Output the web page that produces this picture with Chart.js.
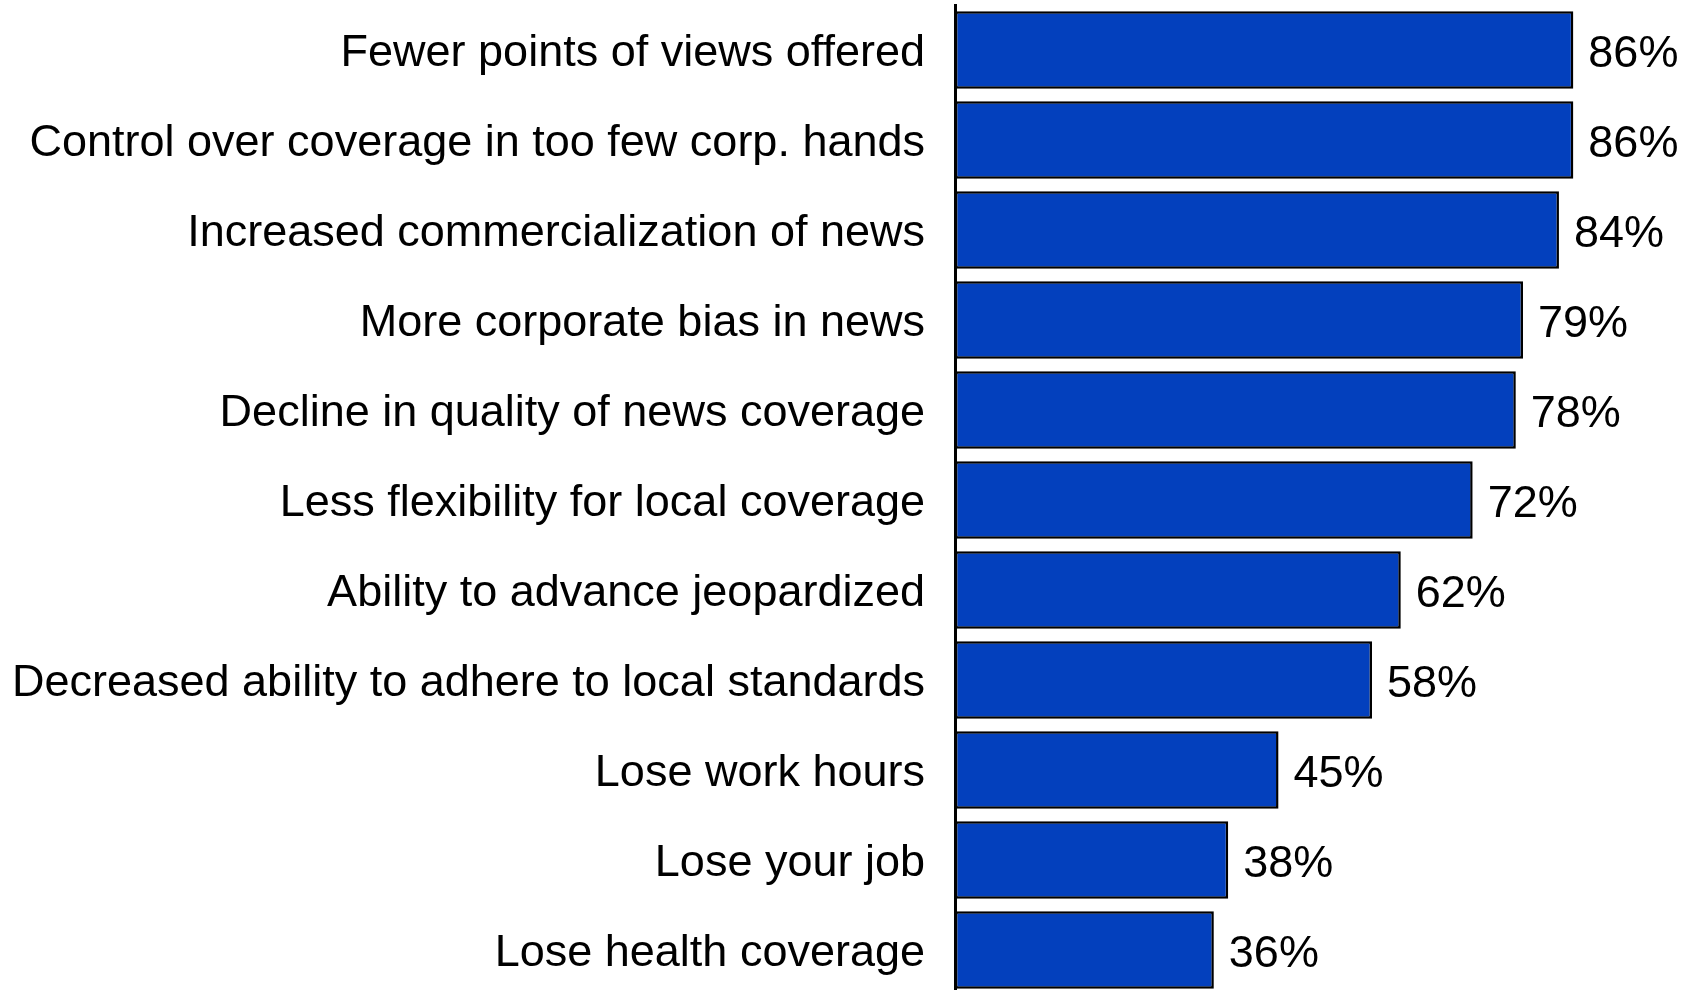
<!DOCTYPE html>
<html>
<head>
<meta charset="utf-8">
<script src="https://cdn.jsdelivr.net/npm/chart.js@4.4.1/dist/chart.umd.min.js"></script>
<style>
  html, body { margin: 0; padding: 0; background: #fff; overflow: hidden; }
  #wrap { position: relative; width: 1690px; height: 995px; }
</style>
</head>
<body>
<div id="wrap"><canvas id="bars"></canvas></div>
<script>
// survey items, top to bottom
const categories = [
  "Fewer points of views offered",
  "Control over coverage in too few corp. hands",
  "Increased commercialization of news",
  "More corporate bias in news",
  "Decline in quality of news coverage",
  "Less flexibility for local coverage",
  "Ability to advance jeopardized",
  "Decreased ability to adhere to local standards",
  "Lose work hours",
  "Lose your job",
  "Lose health coverage"
];
// percent of respondents
const values = [86, 86, 84, 79, 78, 72, 62, 58, 45, 38, 36];

const FONT = '"Liberation Sans", Arial, Helvetica, sans-serif';
const FONT_SIZE = 45;

// writes "NN%" just past the end of each bar
const valueLabels = {
  id: 'valueLabels',
  afterDatasetsDraw(chart) {
    const ctx = chart.ctx;
    const meta = chart.getDatasetMeta(0);
    ctx.save();
    ctx.font = FONT_SIZE + 'px ' + FONT;
    ctx.fillStyle = '#000';
    ctx.textAlign = 'left';
    ctx.textBaseline = 'middle';
    meta.data.forEach((bar, i) => {
      ctx.fillText(values[i] + '%', bar.x + 15, bar.y + 5);
    });
    ctx.restore();
  }
};

new Chart(document.getElementById('bars'), {
  type: 'bar',
  data: {
    labels: categories,
    datasets: [{
      data: values,
      backgroundColor: '#0340bd',
      borderColor: '#000',
      borderWidth: 2.5,
      borderSkipped: false,
      categoryPercentage: 1,
      barPercentage: 0.86
    }]
  },
  options: {
    indexAxis: 'y',
    responsive: true,
    maintainAspectRatio: false,
    animation: false,
    layout: { padding: { top: 5, right: 16, bottom: 0, left: 0 } },
    plugins: {
      legend: { display: false },
      tooltip: { enabled: false }
    },
    scales: {
      x: {
        display: false,
        min: 0,
        max: 100
      },
      y: {
        afterFit(scale) {
          scale.width = 955;
          // no extra room above/below for the first and last label
          scale.paddingTop = 0;
          scale.paddingBottom = 0;
        },
        grid: { display: false, drawTicks: false },
        border: { display: true, color: '#000', width: 3 },
        ticks: {
          color: '#000',
          padding: 30,
          labelOffset: 4,
          font: { family: FONT, size: FONT_SIZE }
        }
      }
    }
  },
  plugins: [valueLabels]
});
</script>
</body>
</html>
